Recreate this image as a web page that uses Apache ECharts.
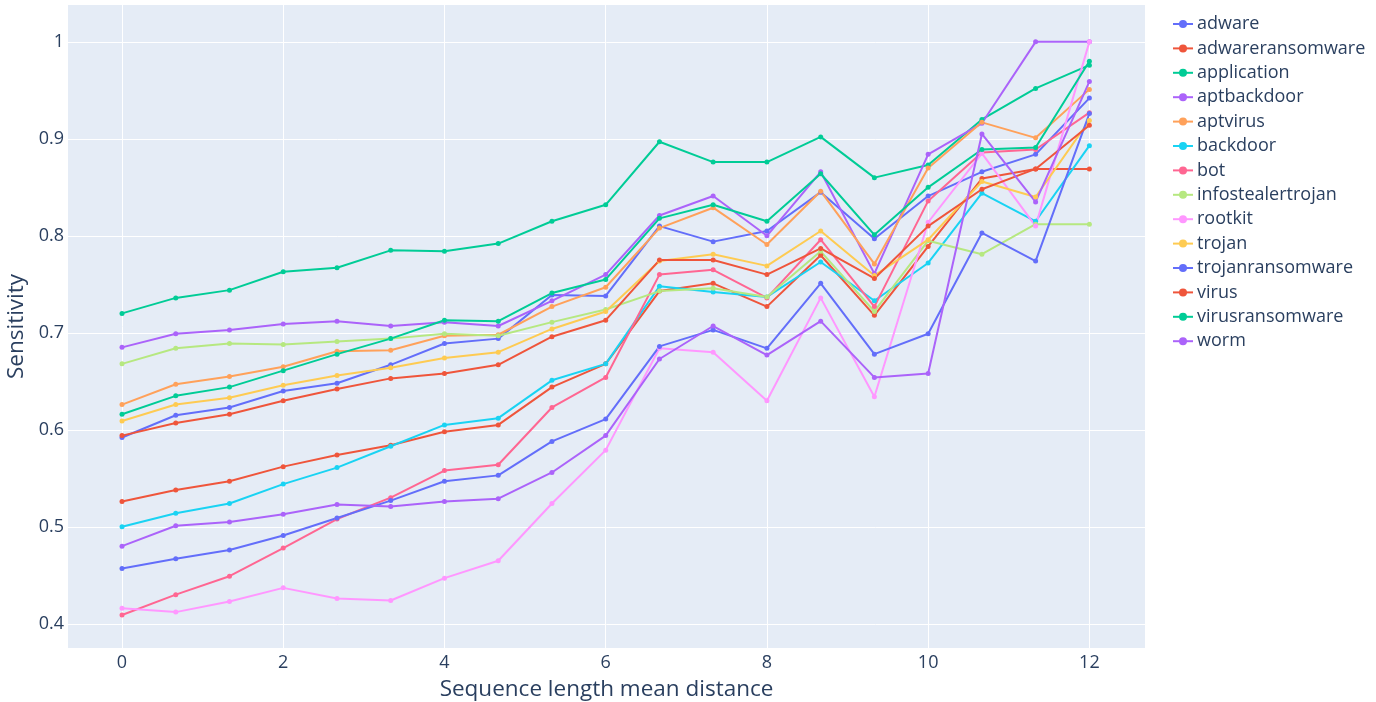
<!DOCTYPE html>
<html>
<head>
<meta charset="utf-8">
<script src="https://cdn.jsdelivr.net/npm/echarts@6/dist/echarts.min.js"></script>
<style>
html,body{margin:0;padding:0;background:#fff;}
#c{width:1376px;height:702px;}
</style>
</head>
<body>
<div id="c"></div>
<script>
const xValues = [0, 0.667, 1.333, 2, 2.667, 3.333, 4, 4.667, 5.333, 6, 6.667, 7.333, 8, 8.667, 9.333, 10, 10.667, 11.333, 12];
const xTicks = [0, 2, 4, 6, 8, 10, 12];
const yTicks = [0.4, 0.5, 0.6, 0.7, 0.8, 0.9, 1];

const seriesNames = ["adware","adwareransomware","application","aptbackdoor","aptvirus","backdoor","bot","infostealertrojan","rootkit","trojan","trojanransomware","virus","virusransomware","worm"];
const colors = ["#636efa","#EF553B","#00cc96","#ab63fa","#FFA15A","#19d3f3","#FF6692","#B6E880","#FF97FF","#FECB52","#636efa","#EF553B","#00cc96","#ab63fa"];

const adware = [0.592, 0.615, 0.623, 0.640, 0.648, 0.667, 0.689, 0.694, 0.739, 0.738, 0.810, 0.794, 0.805, 0.845, 0.797, 0.841, 0.866, 0.884, 0.942];
const adwareransomware = [0.526, 0.538, 0.547, 0.562, 0.574, 0.584, 0.598, 0.605, 0.644, 0.668, 0.743, 0.751, 0.727, 0.780, 0.718, 0.789, 0.859, 0.869, 0.869];
const application = [0.720, 0.736, 0.744, 0.763, 0.767, 0.785, 0.784, 0.792, 0.815, 0.832, 0.897, 0.876, 0.876, 0.902, 0.860, 0.873, 0.920, 0.952, 0.976];
const aptbackdoor = [0.685, 0.699, 0.703, 0.709, 0.712, 0.707, 0.711, 0.707, 0.733, 0.760, 0.821, 0.841, 0.800, 0.866, 0.761, 0.884, 0.916, 1.0, 1.0];
const aptvirus = [0.626, 0.647, 0.655, 0.665, 0.681, 0.682, 0.697, 0.698, 0.727, 0.747, 0.808, 0.829, 0.791, 0.846, 0.771, 0.870, 0.917, 0.901, 0.951];
const backdoor = [0.500, 0.514, 0.524, 0.544, 0.561, 0.583, 0.605, 0.612, 0.651, 0.668, 0.748, 0.742, 0.737, 0.773, 0.733, 0.772, 0.844, 0.815, 0.893];
const bot = [0.409, 0.430, 0.449, 0.478, 0.508, 0.530, 0.558, 0.564, 0.623, 0.654, 0.760, 0.765, 0.736, 0.796, 0.727, 0.836, 0.886, 0.889, 0.927];
const infostealertrojan = [0.668, 0.684, 0.689, 0.688, 0.691, 0.694, 0.699, 0.697, 0.711, 0.724, 0.743, 0.746, 0.737, 0.784, 0.722, 0.795, 0.781, 0.812, 0.812];
const rootkit = [0.416, 0.412, 0.423, 0.437, 0.426, 0.424, 0.447, 0.465, 0.524, 0.579, 0.684, 0.680, 0.630, 0.736, 0.634, 0.814, 0.885, 0.810, 1.0];
const trojan = [0.609, 0.626, 0.633, 0.646, 0.656, 0.664, 0.674, 0.680, 0.704, 0.722, 0.774, 0.781, 0.769, 0.805, 0.759, 0.796, 0.856, 0.840, 0.919];
const trojanransomware = [0.457, 0.467, 0.476, 0.491, 0.509, 0.527, 0.547, 0.553, 0.588, 0.611, 0.686, 0.703, 0.684, 0.751, 0.678, 0.699, 0.803, 0.774, 0.926];
const virus = [0.594, 0.607, 0.616, 0.630, 0.642, 0.653, 0.658, 0.667, 0.696, 0.713, 0.775, 0.775, 0.760, 0.787, 0.756, 0.810, 0.848, 0.869, 0.914];
const virusransomware = [0.616, 0.635, 0.644, 0.661, 0.678, 0.694, 0.713, 0.712, 0.741, 0.755, 0.818, 0.832, 0.815, 0.864, 0.801, 0.850, 0.889, 0.891, 0.980];
const worm = [0.480, 0.501, 0.505, 0.513, 0.523, 0.521, 0.526, 0.529, 0.556, 0.594, 0.673, 0.707, 0.677, 0.712, 0.654, 0.658, 0.905, 0.835, 0.959];

const allValues = [adware, adwareransomware, application, aptbackdoor, aptvirus, backdoor, bot, infostealertrojan, rootkit, trojan, trojanransomware, virus, virusransomware, worm];

const FONT = '"Open Sans", Arial, sans-serif';
const TXT = '#2a3f5f';

const series = seriesNames.map((name, i) => ({
  name: name,
  type: 'line',
  data: xValues.map((x, j) => [x, allValues[i][j]]),
  symbol: 'circle',
  symbolSize: 5,
  showSymbol: true,
  lineStyle: { width: 2, color: colors[i] },
  itemStyle: { color: colors[i] },
  emphasis: { disabled: true }
}));

const chart = echarts.init(document.getElementById('c'), null, { renderer: 'canvas' });
chart.setOption({
  animation: false,
  backgroundColor: '#ffffff',
  color: colors,
  grid: { left: 68, right: 231, top: 5, bottom: 54, show: true, backgroundColor: '#E5ECF6', borderWidth: 0, containLabel: false, outerBoundsMode: 'none' },
  legend: {
    orient: 'vertical',
    left: 1167,
    top: 10,
    itemWidth: 20,
    itemHeight: 10,
    itemGap: 6.4,
    textStyle: { fontFamily: FONT, fontSize: 18, color: TXT, padding: [0,0,0,-1] },
    data: seriesNames
  },
  xAxis: {
    type: 'value',
    min: -0.67,
    max: 12.69,
    name: 'Sequence length mean distance',
    nameLocation: 'middle',
    nameGap: 30,
    nameTextStyle: { fontFamily: FONT, fontSize: 22.5, color: TXT },
    axisLine: { show: false },
    axisTick: { show: false, customValues: xTicks },
    axisLabel: { customValues: xTicks, fontFamily: FONT, fontSize: 18, color: TXT, margin: 6 },
    splitLine: { show: true, lineStyle: { color: '#ffffff', width: 1 } }
  },
  yAxis: {
    type: 'value',
    min: 0.375,
    max: 1.038,
    name: 'Sensitivity',
    nameLocation: 'middle',
    nameGap: 39,
    nameTextStyle: { fontFamily: FONT, fontSize: 22.5, color: TXT },
    axisLine: { show: false },
    axisTick: { show: false, customValues: yTicks },
    axisLabel: { customValues: yTicks, fontFamily: FONT, fontSize: 18, color: TXT, margin: 4,
      formatter: v => (Math.abs(v - 1) < 1e-9 ? '1' : String(Math.round(v * 10) / 10)) },
    splitLine: { show: true, lineStyle: { color: '#ffffff', width: 1 } }
  },
  series: series
});
</script>
</body>
</html>
